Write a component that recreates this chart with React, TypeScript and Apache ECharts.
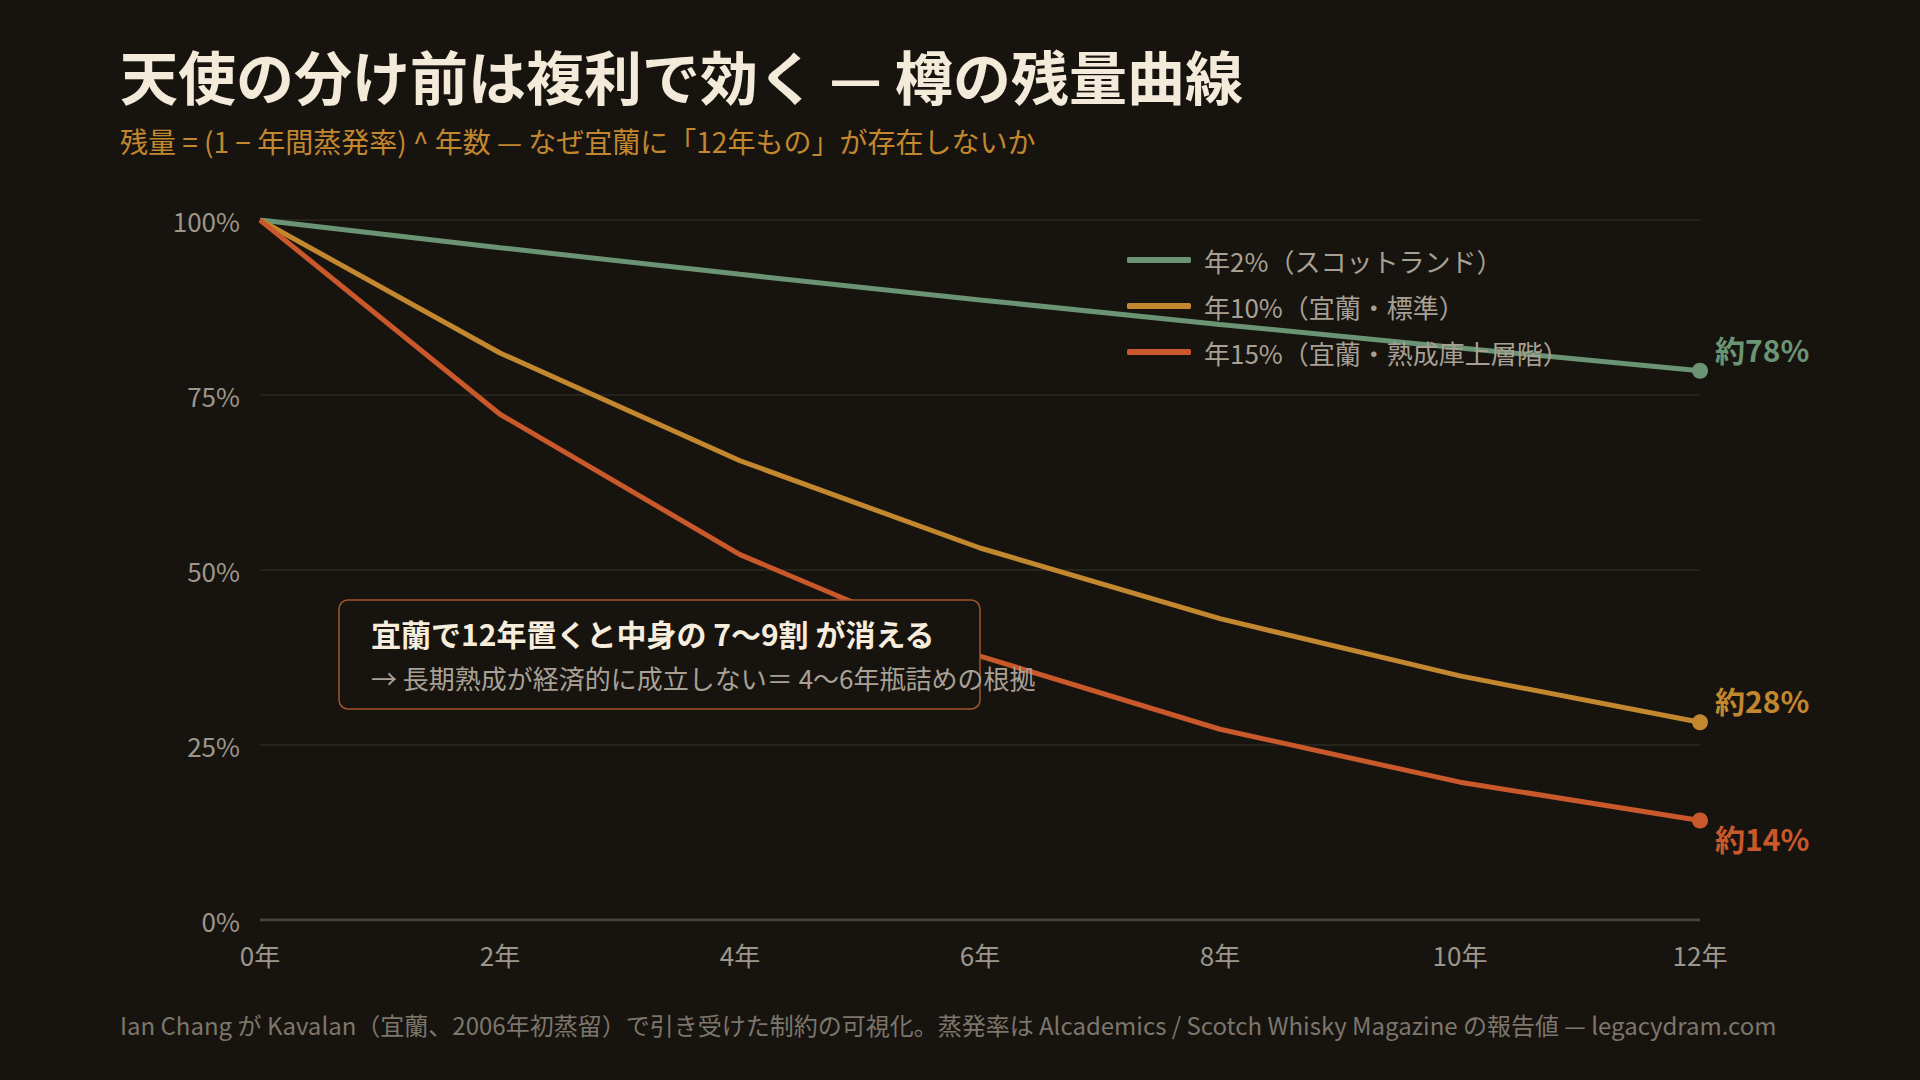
import React, { useEffect, useRef } from "react";
import * as echarts from "echarts";

// Remaining fraction of a cask (%) by years in barrel, for three annual evaporation rates
const years = [0, 2, 4, 6, 8, 10, 12];
const scotland2 = [100, 96.04, 92.24, 88.58, 85.08, 81.71, 78.47];
const kavalan10 = [100, 81.0, 65.61, 53.14, 43.05, 34.87, 28.24];
const kavalan15 = [100, 72.25, 52.2, 37.71, 27.25, 19.69, 14.22];

const seriesNames = [
  "年2%（スコットランド）",
  "年10%（宜蘭・標準）",
  "年15%（宜蘭・熟成庫上層階）",
];
const seriesColors = ["#6b9474", "#c2872f", "#c9582b"];

const titleText = "天使の分け前は複利で効く — 樽の残量曲線";
const subtitleText = "残量 = (1 − 年間蒸発率) ^ 年数 — なぜ宜蘭に「12年もの」が存在しないか";
const noteTitle = "宜蘭で12年置くと中身の 7〜9割 が消える";
const noteBody = "→ 長期熟成が経済的に成立しない＝ 4〜6年瓶詰めの根拠";
const footerText =
  "Ian Chang が Kavalan（宜蘭、2006年初蒸留）で引き受けた制約の可視化。蒸発率は Alcademics / Scotch Whisky Magazine の報告値 — legacydram.com";

const FONT = "'Noto Sans CJK JP', 'Noto Sans', sans-serif";
const BG = "#17140f";

export default function App() {
  const ref = useRef<HTMLDivElement>(null);

  useEffect(() => {
    if (!ref.current) return;
    const chart = echarts.init(ref.current, null, { renderer: "svg" });

    const endOffsets = [
      [2, -22],
      [2, -22],
      [2, 18],
    ];

    const makeSeries = (name: string, values: number[], idx: number) => ({
      name,
      type: "line",
      data: values.map((v, i) => {
        const last = i === values.length - 1;
        return {
          value: [years[i], v],
          symbolSize: last ? 16 : 0,
          label: last
            ? {
                show: true,
                position: "right",
                offset: endOffsets[idx],
                formatter: `約${Math.round(v)}%`,
                color: seriesColors[idx],
                fontSize: 30,
                fontWeight: "bold",
                fontFamily: FONT,
              }
            : { show: false },
        };
      }),
      symbol: "circle",
      showAllSymbol: true,
      lineStyle: { color: seriesColors[idx], width: 5 },
      itemStyle: { color: seriesColors[idx] },
      z: 3,
    });

    chart.setOption({
      animation: false,
      backgroundColor: BG,
      textStyle: { fontFamily: FONT },
      grid: { left: 260, right: 220, top: 220, bottom: 160 },
      xAxis: {
        type: "value",
        min: 0,
        max: 12,
        interval: 2,
        axisLine: { show: false },
        axisTick: { show: false },
        splitLine: { show: false },
        axisLabel: {
          formatter: "{value}年",
          color: "#9d968b",
          fontSize: 26,
          fontFamily: FONT,
          margin: 21,
        },
      },
      yAxis: {
        type: "value",
        min: 0,
        max: 100,
        interval: 25,
        axisLine: { show: false },
        axisTick: { show: false },
        splitLine: { lineStyle: { color: "#2c2823", width: 1.5 } },
        axisLabel: {
          formatter: "{value}%",
          color: "#9d968b",
          fontSize: 26,
          fontFamily: FONT,
          margin: 20,
        },
      },
      legend: {
        orient: "vertical",
        left: 1122,
        top: 240,
        icon: "roundRect",
        itemWidth: 64,
        itemHeight: 6,
        itemGap: 16,
        data: seriesNames,
        textStyle: {
          color: "#a8a094",
          fontSize: 26,
          fontFamily: FONT,
          lineHeight: 30,
          padding: [0, 0, 0, 8],
        },
      },
      series: [
        makeSeries(seriesNames[0], scotland2, 0),
        makeSeries(seriesNames[1], kavalan10, 1),
        makeSeries(seriesNames[2], kavalan15, 2),
        {
          // baseline at 0%
          type: "line",
          data: [
            [0, 0],
            [12, 0],
          ],
          symbol: "none",
          silent: true,
          lineStyle: { color: "#48423b", width: 3 },
          z: 2,
        },
      ],
      graphic: [
        {
          type: "text",
          left: 120,
          top: 46,
          z: 100,
          style: {
            text: titleText,
            fill: "#f4ead9",
            font: `bold 58px ${FONT}`,
          },
        },
        {
          type: "text",
          left: 120,
          top: 127,
          z: 100,
          style: {
            text: subtitleText,
            fill: "#c2872f",
            font: `28px ${FONT}`,
          },
        },
        {
          type: "rect",
          z: 100,
          shape: { x: 339, y: 600, width: 641, height: 109, r: 9 },
          style: { fill: BG, stroke: "#a4542c", lineWidth: 1.5 },
        },
        {
          type: "text",
          left: 371,
          top: 618,
          z: 101,
          style: {
            text: noteTitle,
            fill: "#f6eddd",
            font: `bold 30px ${FONT}`,
          },
        },
        {
          type: "text",
          left: 371,
          top: 664,
          z: 101,
          style: {
            text: noteBody,
            fill: "#a9a196",
            font: `26px ${FONT}`,
          },
        },
        {
          type: "text",
          left: 120,
          top: 1012,
          z: 100,
          style: {
            text: footerText,
            fill: "#7d766c",
            font: `24px ${FONT}`,
          },
        },
      ],
    });

    return () => chart.dispose();
  }, []);

  return (
    <div
      ref={ref}
      style={{ width: 1920, height: 1080, position: "absolute", left: 0, top: 0 }}
    />
  );
}
